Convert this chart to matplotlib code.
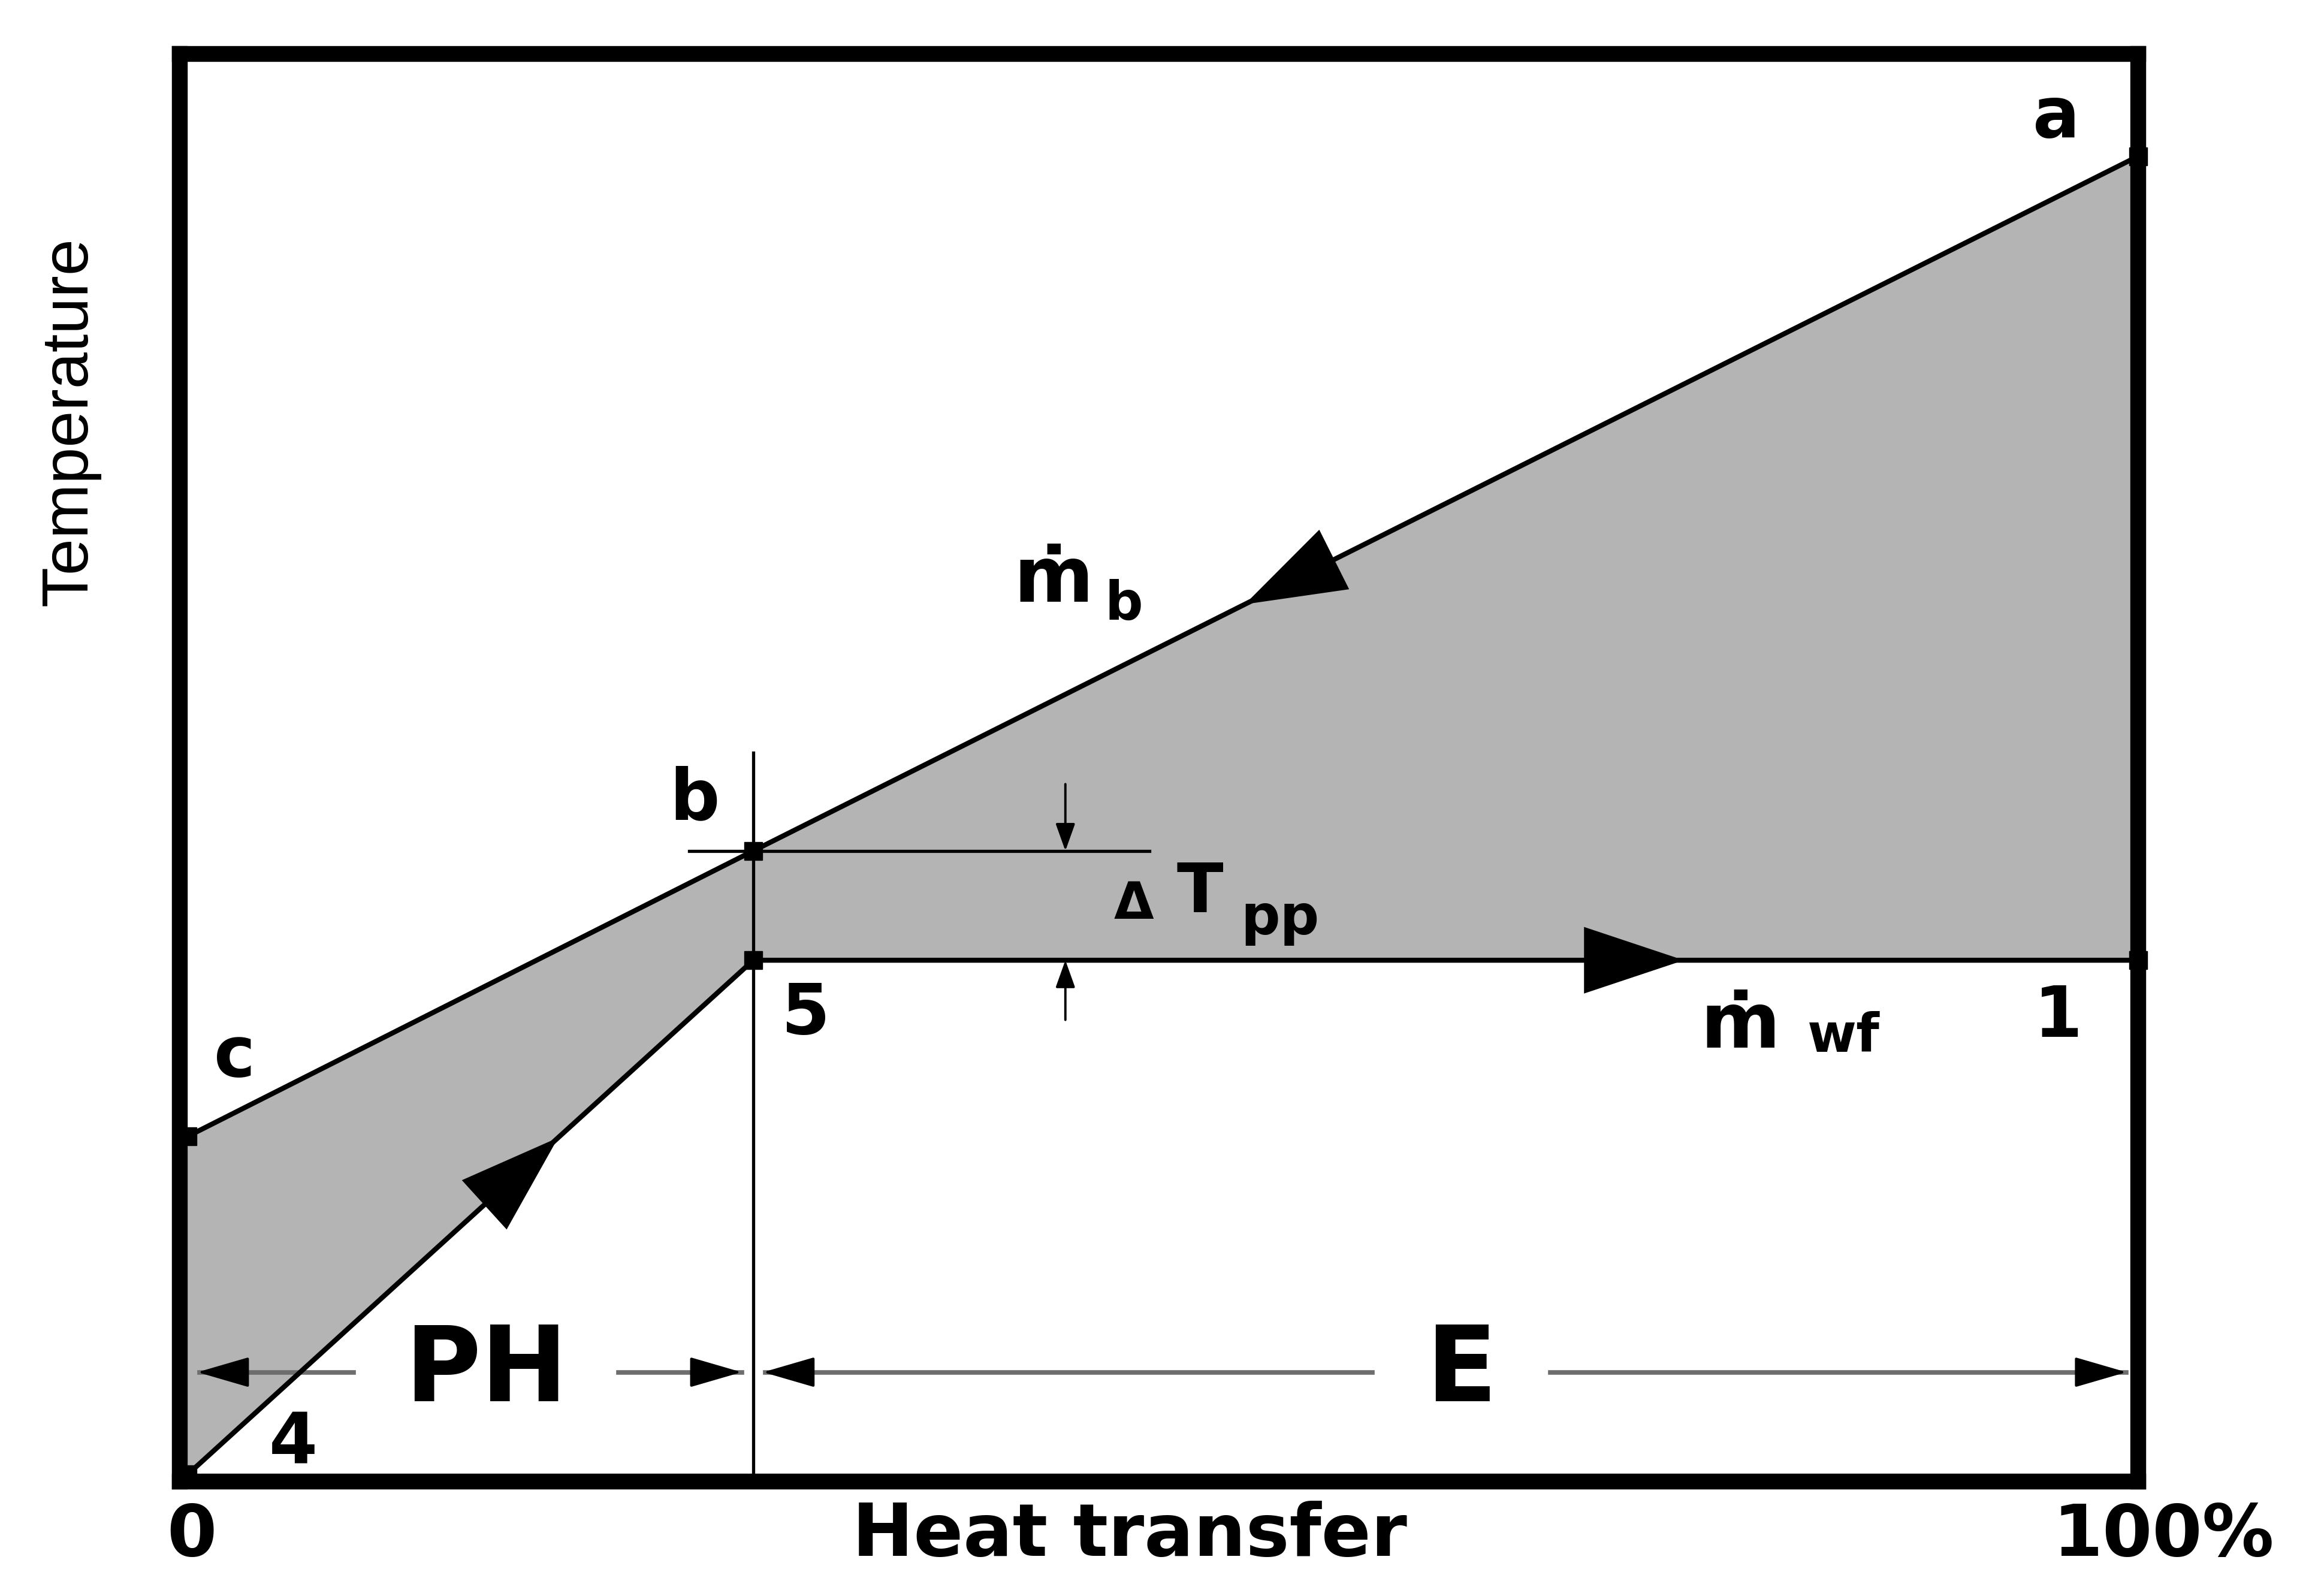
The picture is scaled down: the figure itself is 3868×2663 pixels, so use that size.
import numpy as np
import matplotlib
matplotlib.use("Agg")
import matplotlib.pyplot as plt
from matplotlib import font_manager
from matplotlib.patches import FancyArrowPatch
import matplotlib.transforms as mtrans

# 热源侧 c -> b -> a  (x: 换热量 %, y: 温度 相对值)
hot_x = [0.0, 29.0, 100.0]
hot_y = [23.8, 43.9, 92.8]
hot_names = ["c", "b", "a"]
# 工质侧 4 -> 5 -> 1
cold_x = [0.0, 29.0, 100.0]
cold_y = [0.0, 36.2, 36.2]
cold_names = ["4", "5", "1"]
x_tick_pos = [0, 100]
x_tick_labels = ["0", "100%"]
zone_names = ["PH", "E"]

plt.rcParams["font.family"] = ["DejaVu Sans"]

names = {f.name for f in font_manager.fontManager.ttflist}
if "Liberation Sans Narrow" in names:
    temp_font, temp_size = "Liberation Sans Narrow", 90
else:
    temp_font, temp_size = "Liberation Sans", 79

fig = plt.figure(figsize=(38.68, 26.63), dpi=100)
ax = fig.add_axes([0.0776, 0.0717, 0.9224 - 0.0776, 0.9662 - 0.0717])
ax.set_xlim(-0.4, 100.0)
ax.set_ylim(-0.5, 100.0)
ax.set_xticks([]); ax.set_yticks([])
for s in ax.spines.values():
    s.set_linewidth(19); s.set_capstyle("projecting")

# 灰色换热区
poly_x = hot_x + cold_x[::-1]
poly_y = hot_y + cold_y[::-1]
ax.fill(poly_x, poly_y, color="#b4b4b4", lw=0, zorder=1)

ax.plot(hot_x, hot_y, color="k", lw=6, zorder=3)
ax.plot(cold_x, cold_y, color="k", lw=6, zorder=3)
ax.plot(hot_x, hot_y, "s", color="k", ms=22, zorder=4, clip_on=False)
ax.plot(cold_x, cold_y, "s", color="k", ms=22, zorder=4, clip_on=False)

# 夹点竖线 + b 处水平线
xb, yb, y5 = hot_x[1], hot_y[1], cold_y[1]
ax.plot([xb, xb], [-0.5, 50.8], color="k", lw=3.8, zorder=3)
ax.plot([25.7, 49.3], [yb, yb], color="k", lw=3.8, zorder=3)


def head_on(p0, p1, frac, hl=120, hw=40):
    # 在 p0->p1 线段上 frac 处放一个实心箭头
    x0, y0 = p0; x1, y1 = p1
    tip = (x0 + frac*(x1 - x0), y0 + frac*(y1 - y0))
    base = (x0 + (frac - 0.2)*(x1 - x0), y0 + (frac - 0.2)*(y1 - y0))
    ax.add_patch(FancyArrowPatch(base, tip, arrowstyle=f"-|>,head_length={hl},head_width={hw}",
                                 mutation_scale=1, color="k", lw=0, shrinkA=0, shrinkB=0, zorder=5))


head_on((hot_x[2], hot_y[2]), (hot_x[1], hot_y[1]), 0.645)
head_on((cold_x[1], cold_y[1]), (cold_x[2], cold_y[2]), 0.672)
head_on((cold_x[0], cold_y[0]), (cold_x[1], cold_y[1]), 0.655)

# ΔT_pp 小箭头
x_dt = 45.0
for y_from, y_to in [(48.6, yb), (32.0, y5)]:
    ax.add_patch(FancyArrowPatch((x_dt, y_from), (x_dt, y_to), arrowstyle="-|>,head_length=28,head_width=10",
                                 mutation_scale=1, color="k", lw=2.8, shrinkA=0, shrinkB=0, zorder=5))

# PH / E 区间标注
y_zone = 7.2
zones = [(0.0, xb), (xb, 100.0)]
gaps = [13.6, 9.1]
for (xa, xe), name, gap in zip(zones, zone_names, gaps):
    xm = 0.5*(xa + xe) + 0.8
    ax.plot([xa + 0.6, xm - gap/2], [y_zone, y_zone], color="#6e6e6e", lw=5.5, zorder=2)
    ax.plot([xm + gap/2, xe - 0.6], [y_zone, y_zone], color="#6e6e6e", lw=5.5, zorder=2)
    for start, tip in [(xa + 3.0, xa + 0.5), (xe - 3.0, xe - 0.6)]:
        ax.add_patch(FancyArrowPatch((start, y_zone), (tip, y_zone), arrowstyle="-|>,head_length=55,head_width=16",
                                     mutation_scale=1, color="k", lw=3, shrinkA=0, shrinkB=0, zorder=5))
    ax.text(xm, y_zone, name, fontsize=125, fontweight="bold", ha="center", va="center", zorder=6)

# 状态点标签
lab_kw = dict(fontsize=84, fontweight="bold", ha="center", va="center", zorder=6)
ax.text(95.8, 95.5, hot_names[2], **lab_kw)
ax.text(26.0, 47.5, hot_names[1], **lab_kw)
ax.text(2.4, 29.4, hot_names[0], **lab_kw)
ax.text(31.7, 32.4, cold_names[1], **lab_kw)
ax.text(95.9, 32.2, cold_names[2], **lab_kw)
ax.text(5.4, 2.1, cold_names[0], **lab_kw)

# 质量流量 ṁ / 夹点温差
for (mx, my), sub, (sx, sy) in [((44.4, 61.4), "b", (48.0, 61.2)), ((79.6, 30.0), "wf", (84.9, 30.8))]:
    ax.text(mx, my, "\u1e41", fontsize=92, fontweight="bold", ha="center", va="baseline", zorder=6)
    ax.text(sx, sy, sub, fontsize=64, fontweight="bold", ha="center", va="center", zorder=6)
ax.text(48.5, 40.1, "\u0394", fontsize=62, fontweight="bold", ha="center", va="center", zorder=6)
ax.text(51.9, 40.9, "T", fontsize=82, fontweight="bold", ha="center", va="center", zorder=6)
ax.text(56.0, 39.1, "pp", fontsize=66, fontweight="bold", ha="center", va="center", zorder=6)

# 坐标轴文字
tr = mtrans.blended_transform_factory(ax.transData, ax.transAxes)
ax.text(x_tick_pos[0] + 0.2, -0.038, x_tick_labels[0], transform=tr, fontsize=86, fontweight="bold",
        ha="center", va="center")
ax.text(x_tick_pos[1] + 1.3, -0.038, x_tick_labels[1], transform=tr, fontsize=86, fontweight="bold",
        ha="center", va="center")
ax.text(48.3, -0.038, "Heat transfer", transform=tr, fontsize=88, fontweight="bold",
        ha="center", va="center")
ax.text(-0.0563, 0.7426, "Temperature", transform=ax.transAxes, rotation=90, fontsize=temp_size,
        family=temp_font, ha="center", va="center")

fig.savefig("out.png", dpi=100)
